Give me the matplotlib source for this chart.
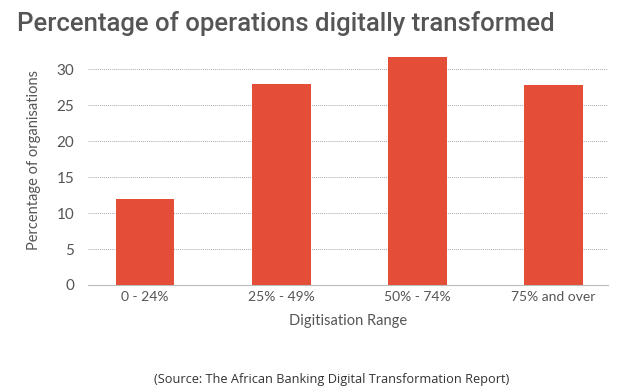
import matplotlib as mpl
mpl.use('Agg')
import matplotlib.pyplot as plt

categories = ['0 - 24%', '25% - 49%', '50% - 74%', '75% and over']
values = [12, 28, 31.7, 27.8]
yticks = [0, 5, 10, 15, 20, 25, 30]

bar_color = '#E44D37'
text_color = '#555555'

fig = plt.figure(figsize=(6.39, 3.90), dpi=100)
ax = fig.add_axes([88 / 639, 1 - 285 / 390, 520 / 639, 228 / 390])

x = range(len(categories))
ax.bar(x, values, width=0.43, color=bar_color, zorder=3)

ax.set_xlim(-0.42, 3.4)
ax.set_ylim(0, 31.7)
ax.set_yticks(yticks)
ax.set_xticks(list(x))
ax.set_xticklabels(categories, family='Lato', fontsize=10, color=text_color)
for lab in ax.get_yticklabels():
    lab.set_family('Lato')
    lab.set_fontsize(11)
    lab.set_color(text_color)
ax.tick_params(axis='both', length=0, pad=4)
ax.tick_params(axis='y', pad=10)

ax.grid(axis='y', linestyle=(0, (1, 1)), color='#aaaaaa', linewidth=0.7, zorder=0)
for s in ['top', 'right', 'left']:
    ax.spines[s].set_visible(False)
ax.spines['bottom'].set_color('#bbbbbb')
ax.spines['bottom'].set_linewidth(0.8)

ax.set_xlabel('Digitisation Range', family='Lato', fontsize=10.5, color=text_color, labelpad=8)
ax.set_ylabel('Percentage of organisations', family='Lato', fontsize=10.5, color=text_color, labelpad=6)
ax.yaxis.set_label_coords(-0.09, 0.55)

fig.text(17 / 639, 1 - 31 / 390, 'Percentage of operations digitally transformed',
         family='Roboto', fontsize=18.5, fontweight='medium', color='#555555')
fig.text(332 / 639, 1 - 379 / 390, '(Source: The African Banking Digital Transformation Report)',
         family='Open Sans', fontsize=9.2, color='#333333', ha='center', va='center')

fig.savefig('out.png', dpi=100)
